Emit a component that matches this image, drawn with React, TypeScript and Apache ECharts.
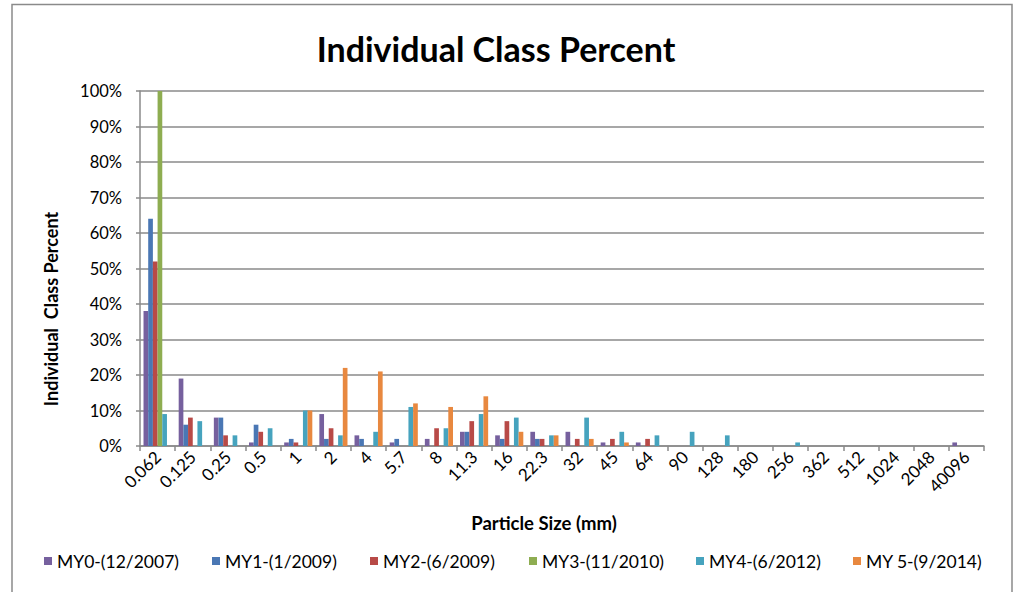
import React, { useEffect, useRef } from "react";
import * as echarts from "echarts";

const categories = ["0.062", "0.125", "0.25", "0.5", "1", "2", "4", "5.7", "8", "11.3", "16", "22.3", "32", "45", "64", "90", "128", "180", "256", "362", "512", "1024", "2048", "40096"];

const seriesNames = ["MY0-(12/2007)", "MY1-(1/2009)", "MY2-(6/2009)", "MY3-(11/2010)", "MY4-(6/2012)", "MY 5-(9/2014)"];

const my0 = [38, 19, 8, 1, 1, 9, 3, 1, 2, 4, 3, 4, 4, 1, 1, 0, 0, 0, 0, 0, 0, 0, 0, 1];
const my1 = [64, 6, 8, 6, 2, 2, 2, 2, 0, 4, 2, 2, 0, 0, 0, 0, 0, 0, 0, 0, 0, 0, 0, 0];
const my2 = [52, 8, 3, 4, 1, 5, 0, 0, 5, 7, 7, 2, 2, 2, 2, 0, 0, 0, 0, 0, 0, 0, 0, 0];
const my3 = [100, 0, 0, 0, 0, 0, 0, 0, 0, 0, 0, 0, 0, 0, 0, 0, 0, 0, 0, 0, 0, 0, 0, 0];
const my4 = [9, 7, 3, 5, 10, 3, 4, 11, 5, 9, 8, 3, 8, 4, 3, 4, 3, 0, 1, 0, 0, 0, 0, 0];
const my5 = [0, 0, 0, 0, 10, 22, 21, 12, 11, 14, 4, 3, 2, 1, 0, 0, 0, 0, 0, 0, 0, 0, 0, 0];

const seriesValues = [my0, my1, my2, my3, my4, my5];
const colors = ["#76609E", "#4A77B4", "#B84A47", "#8EAD51", "#46A3BE", "#E8883F"];
const legendLefts = [44, 212, 370, 529, 696, 853];

const FONT = "Lato, 'Open Sans', sans-serif";

export default function App() {
  const ref = useRef<HTMLDivElement>(null);
  useEffect(() => {
    if (!ref.current) return;
    const chart = echarts.init(ref.current, null, { renderer: "svg" });
    chart.setOption({
      animation: false,
      backgroundColor: "#ffffff",
      color: colors,
      textStyle: { fontFamily: FONT },
      graphic: [
        {
          type: "rect",
          shape: { x: 12, y: 4.5, width: 1000, height: 620 },
          style: { fill: "none", stroke: "#8a8a8a", lineWidth: 1.5 },
          silent: true,
        },
        {
          type: "text",
          x: 496,
          y: 48,
          style: {
            text: "Individual Class Percent",
            font: `bold 34px ${FONT}`,
            fill: "#000",
            align: "center",
            verticalAlign: "middle",
          },
        },
        {
          type: "text",
          x: 51,
          y: 309,
          rotation: Math.PI / 2,
          style: {
            text: "Individual  Class Percent",
            font: `bold 18px ${FONT}`,
            fill: "#000",
            align: "center",
            verticalAlign: "middle",
          },
        },
        {
          type: "text",
          x: 544,
          y: 523,
          style: {
            text: "Particle Size (mm)",
            font: `bold 18.5px ${FONT}`,
            fill: "#000",
            align: "center",
            verticalAlign: "middle",
          },
        },
      ],
      legend: seriesNames.map((n, i) => ({
        data: [n],
        left: legendLefts[i],
        top: 552,
        padding: 0,
        itemWidth: 8,
        itemHeight: 8,
        itemGap: 7,
        icon: "rect",
        textStyle: { fontSize: 17.5, color: "#000", fontFamily: FONT },
        selectedMode: false,
      })),
      grid: { left: 140, right: 31, top: 91, bottom: 146, containLabel: false },
      xAxis: {
        type: "category",
        data: categories,
        axisLine: { lineStyle: { color: "#8a8a8a", width: 1.5 } },
        axisTick: { show: true, length: 5, lineStyle: { color: "#8a8a8a", width: 1.5 } },
        axisLabel: { rotate: 45, fontSize: 17, color: "#000", margin: 8, interval: 0, fontFamily: FONT },
      },
      yAxis: {
        type: "value",
        min: 0,
        max: 100,
        interval: 10,
        axisLine: { show: true, lineStyle: { color: "#8a8a8a", width: 1.5 } },
        axisTick: { show: true, length: 4, lineStyle: { color: "#8a8a8a", width: 1.5 } },
        axisLabel: { formatter: "{value}%", fontSize: 16.5, color: "#000", margin: 18, fontFamily: FONT },
        splitLine: { lineStyle: { color: "#8a8a8a", width: 1.5 } },
      },
      series: seriesValues.map((vals, i) => ({
        name: seriesNames[i],
        type: "bar",
        data: vals,
        barGap: "0%",
        barCategoryGap: "20%",
        itemStyle: { color: colors[i] },
      })),
    });
    return () => chart.dispose();
  }, []);
  return (
    <div
      ref={ref}
      style={{ position: "fixed", left: 0, top: 0, width: 1015, height: 592 }}
    />
  );
}
